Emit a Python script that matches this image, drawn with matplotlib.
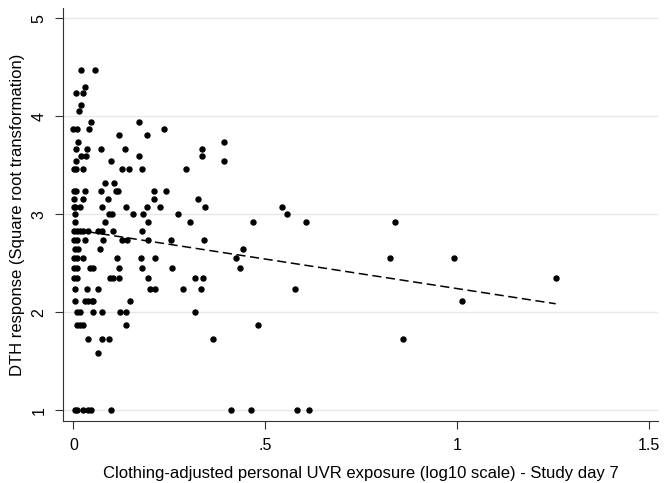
import matplotlib
matplotlib.use('Agg')
import matplotlib.pyplot as plt
import numpy as np

plt.rcParams['font.family'] = ['Liberation Sans', 'DejaVu Sans']

# DTH response rows (sqrt scale) and the UVR exposure values read on each row
rows = [4.47, 4.30, 4.24, 4.12, 4.06, 3.94, 3.87, 3.81, 3.74, 3.67, 3.60, 3.54,
        3.46, 3.32, 3.24, 3.16, 3.08, 3.00, 2.92, 2.83, 2.74, 2.65, 2.55, 2.45,
        2.35, 2.24, 2.12, 2.00, 1.87, 1.73, 1.58, 1.00]
uvr = [
    [0.02, 0.057],
    [0.031],
    [0.007, 0.024],
    [0.02],
    [0.016],
    [0.047, 0.172],
    [0.0, 0.01, 0.041, 0.237],
    [0.119, 0.193],
    [0.013, 0.392],
    [0.008, 0.035, 0.073, 0.135, 0.334],
    [0.019, 0.032, 0.17, 0.334],
    [0.007, 0.097, 0.392],
    [0.001, 0.006, 0.024, 0.127, 0.144, 0.18, 0.293],
    [0.083, 0.105],
    [0.001, 0.006, 0.031, 0.073, 0.112, 0.116, 0.209, 0.242],
    [0.002, 0.024, 0.09, 0.209, 0.324],
    [0.001, 0.005, 0.017, 0.075, 0.138, 0.192, 0.225, 0.342, 0.543],
    [0.004, 0.092, 0.101, 0.155, 0.182, 0.272, 0.556],
    [0.004, 0.082, 0.194, 0.303, 0.469, 0.606, 0.837],
    [0.001, 0.009, 0.018, 0.026, 0.039, 0.065, 0.074, 0.104, 0.179],
    [0.001, 0.009, 0.031, 0.076, 0.127, 0.141, 0.194, 0.255, 0.34],
    [0.005, 0.012, 0.07, 0.441],
    [0.001, 0.009, 0.026, 0.113, 0.177, 0.214, 0.425, 0.825, 0.992],
    [0.001, 0.009, 0.044, 0.052, 0.12, 0.179, 0.257, 0.434],
    [0.001, 0.009, 0.096, 0.104, 0.118, 0.194, 0.317, 0.337, 1.257],
    [0.005, 0.035, 0.065, 0.199, 0.212, 0.285, 0.333, 0.578],
    [0.005, 0.031, 0.039, 0.048, 0.052, 0.147, 1.014],
    [0.009, 0.018, 0.052, 0.074, 0.122, 0.138, 0.316],
    [0.009, 0.018, 0.026, 0.138, 0.482],
    [0.038, 0.075, 0.092, 0.364, 0.858],
    [0.064],
    [0.004, 0.01, 0.024, 0.037, 0.045, 0.097, 0.412, 0.463, 0.582, 0.614],
]

# fitted line
fit_intercept = 2.845
fit_slope = -0.603

xs = np.array([v for r in uvr for v in r])
ys = np.array([y for y, r in zip(rows, uvr) for _ in r])

fig = plt.figure(figsize=(6.65, 4.83), dpi=100)
ax = fig.add_axes([0.0947, 0.128, 0.895, 0.855])

ax.grid(axis='y', color='#e8e8e8', linewidth=1)
ax.set_axisbelow(True)
ax.plot(xs, ys, 'o', color='black', markersize=3.6, linestyle='none')

line_x = np.array([xs.min(), xs.max()])
ax.plot(line_x, fit_intercept + fit_slope * line_x, color='black',
        linestyle=(0, (6, 3)), linewidth=1.1)

ax.set_xlim(-0.027, 1.524)
ax.set_ylim(0.888, 5.105)
ax.set_xticks([0, 0.5, 1, 1.5])
ax.set_xticklabels(['0', '.5', '1', '1.5'])
ax.set_yticks([1, 2, 3, 4, 5])
for lab in ax.get_yticklabels():
    lab.set_rotation(90)
    lab.set_va('center')
ax.tick_params(axis='both', direction='out', length=6, width=0.8,
               labelsize=11.5, color='#333333')
ax.tick_params(axis='x', pad=6)
ax.tick_params(axis='y', pad=6)
ax.spines['top'].set_visible(False)
ax.spines['right'].set_visible(False)
ax.spines['left'].set_color('#333333')
ax.spines['bottom'].set_color('#333333')

ax.set_xlabel('Clothing-adjusted personal UVR exposure (log10 scale) - Study day 7',
              fontsize=12)
ax.set_ylabel('DTH response (Square root transformation)', fontsize=12)
ax.xaxis.set_label_coords(0.5, -0.108)
ax.yaxis.set_label_coords(-0.064, 0.5)

fig.savefig('out.png', dpi=100)
